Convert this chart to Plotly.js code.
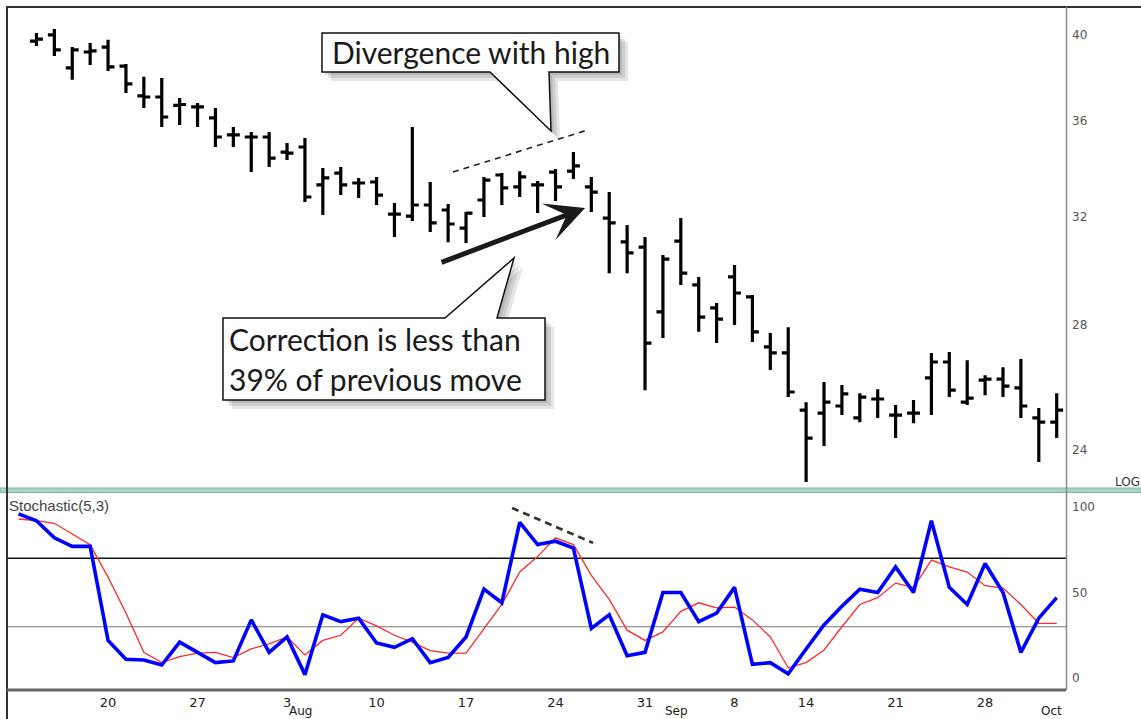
<!DOCTYPE html>
<html><head><meta charset="utf-8">
<script src="https://cdn.plot.ly/plotly-3.0.1.min.js"></script>
<style>html,body{margin:0;padding:0;background:#fff;overflow:hidden}#chart{width:1141px;height:719px}</style>
</head><body><div id="chart"></div>
<script>
// ---- data ----
const dates = ['1998-07-13','1998-07-14','1998-07-15','1998-07-16','1998-07-17',
'1998-07-20','1998-07-21','1998-07-22','1998-07-23','1998-07-24',
'1998-07-27','1998-07-28','1998-07-29','1998-07-30','1998-07-31',
'1998-08-03','1998-08-04','1998-08-05','1998-08-06','1998-08-07',
'1998-08-10','1998-08-11','1998-08-12','1998-08-13','1998-08-14',
'1998-08-17','1998-08-18','1998-08-19','1998-08-20','1998-08-21',
'1998-08-24','1998-08-25','1998-08-26','1998-08-27','1998-08-28',
'1998-08-31','1998-09-01','1998-09-02','1998-09-03','1998-09-04',
'1998-09-08','1998-09-09','1998-09-10','1998-09-11',
'1998-09-14','1998-09-15','1998-09-16','1998-09-17','1998-09-18',
'1998-09-21','1998-09-22','1998-09-23','1998-09-24','1998-09-25',
'1998-09-28','1998-09-29','1998-09-30','1998-10-01','1998-10-02'];
const priceDates = dates.slice(1);

const openPx = [39.70,40.00,38.41,39.17,39.41,38.50,37.11,37.06,36.68,36.61,
36.12,35.37,35.28,35.28,34.63,34.85,33.26,33.75,33.34,33.38,
32.09,32.01,32.45,32.25,31.54,32.65,33.67,33.18,33.26,33.79,
33.83,33.18,31.93,31.01,30.81,28.45,31.04,29.41,28.59,29.70,
28.98,27.25,27.05,25.21,25.12,25.34,24.97,25.56,25.06,25.12,
26.23,26.75,25.46,26.16,26.19,25.91,24.97,24.84];
const highPx = [40.10,40.30,39.41,39.61,39.76,38.60,37.99,37.94,37.02,36.79,
36.56,35.72,35.50,35.50,35.02,35.24,33.96,34.00,33.55,33.59,
32.53,35.72,33.38,32.49,32.17,33.59,33.75,33.83,33.42,33.92,
34.64,33.59,32.97,31.66,31.20,30.51,31.93,29.70,28.76,30.14,
29.05,27.72,27.92,25.46,26.10,26.00,25.74,25.87,25.37,25.53,
27.05,27.08,26.81,26.32,26.58,26.85,25.28,25.74];
const lowPx = [39.46,38.98,37.85,38.55,38.27,37.24,36.56,35.72,35.81,35.72,
34.85,34.85,33.79,34.00,34.30,32.57,32.05,32.85,32.73,32.45,
31.20,31.82,31.39,31.00,30.97,31.97,32.45,32.77,32.13,32.61,
33.50,32.17,29.84,29.84,25.84,27.55,29.41,27.76,27.38,28.00,
27.42,26.49,25.62,23.08,24.12,25.06,24.84,24.97,24.36,24.81,
25.06,25.62,25.37,25.68,25.62,24.97,23.65,24.36];
const closePx = [39.80,39.27,39.27,39.22,38.46,37.66,37.06,36.16,36.72,36.61,
35.28,35.37,35.28,34.38,34.59,32.77,33.55,33.26,33.34,32.85,
32.09,32.45,31.74,31.70,32.13,33.46,33.14,33.59,33.26,33.18,
34.05,32.97,31.74,30.59,27.38,30.36,29.84,28.27,28.20,29.12,
27.76,27.05,25.78,24.36,25.46,25.72,25.62,25.56,25.06,25.12,
26.75,25.84,25.59,26.19,25.97,25.34,24.84,25.21];

const stochK = [96,92,82,77,77,22,11,10.5,7.6,21,
15,9,10,34,15,24,2,37,33,35,
20.5,18,23,9,12,24,52,44,91,78,
80,76,29,37,13,15,50,50,33,38,
53,8,9,2.5,17,31,42,52,50,65,
50,92,53,43,67,50,15,35,47];
const stochD = [93,92,90.5,84,78,59,38,15,9,12.5,
14.6,15,12,17,20,24,13.5,22,25,35,
30.5,25,21,16,14.6,14.6,29,43,62,71,
82,78,60,46,28,22,27,39,44,41,
41.5,34,24,6,9,16.4,30,43,47,55.5,
53,69,65,62,54,52.6,43,32,32];

const priceTicks = [24,28,32,36,40];
const priceTickText = ['24','28','32','36','40'];
const stochTicks = [0,50,100];
const dayTickDates = ['1998-07-20','1998-07-27','1998-08-03','1998-08-10','1998-08-17','1998-08-24',
'1998-08-31','1998-09-08','1998-09-14','1998-09-21','1998-09-28'];
const dayTickText = ['20','27','3','10','17','24','31','8','14','21','28'];
const monthDates = ['1998-08-03','1998-09-01','1998-10-01'];
const monthText = ['Aug','Sep','Oct'];
const overbought = 70, oversold = 30;

// ---- layout helpers (pixel -> paper) ----
const L = 8, R = 1066, T = 7, B = 690;
const px = v => (v - L) / (R - L);
const py = v => (B - v) / (B - T);
const path = pts => 'M ' + pts.map(p => px(p[0]).toFixed(5) + ',' + py(p[1]).toFixed(5)).join(' L ') + ' Z';
const shifted = (pts, d) => pts.map(p => [p[0] + d, p[1] + d]);

const divBox = [[322,33],[619,33],[619,72],[549,72],[551,131],[490,72],[322,72]];
const corBox = [[223,318],[445,318],[514,258],[497,318],[545,318],[545,400],[223,400]];

const shapes = [];
function lineP(x0,y0,x1,y1,color,width,extra){
  shapes.push(Object.assign({type:'line',xref:'paper',yref:'paper',x0:px(x0),y0:py(y0),x1:px(x1),y1:py(y1),
    line:{color:color,width:width},layer:'above'},extra||{}));
}
// reference levels on stochastic
shapes.push({type:'line',xref:'paper',yref:'y2',x0:0,x1:1,y0:overbought,y1:overbought,line:{color:'#111',width:1.6},layer:'below'});
shapes.push({type:'line',xref:'paper',yref:'y2',x0:0,x1:1,y0:oversold,y1:oversold,line:{color:'#777',width:1.2},layer:'below'});
// frame and separators
shapes.push({type:'rect',xref:'paper',yref:'paper',x0:px(0),x1:px(1141),y0:py(492.5),y1:py(488),
  fillcolor:'#a8d7c7',line:{color:'#7db5a3',width:1},layer:'above'});
lineP(6,7,1141,7,'#333',2);
lineP(7,7,7,719,'#333',2);
lineP(1066.5,7,1066.5,690,'#888',1.5);
lineP(7,690,1066,690,'#666',3);
// divergence dashed lines (data coordinates)
shapes.push({type:'line',xref:'x',yref:'y',x0:24.27,y0:33.79,x1:31.8,y1:35.59,line:{color:'#222',width:1.6,dash:'6px,5px'},layer:'above'});
shapes.push({type:'line',xref:'x2',yref:'y2',x0:27.57,y0:99.4,x1:32.1,y1:79,line:{color:'#333',width:2.6,dash:'7px,5px'},layer:'above'});
// callouts with soft shadows
[[divBox],[corBox]].forEach(([pts]) => {
  [3,6,9].forEach(d => shapes.push({type:'path',xref:'paper',yref:'paper',path:path(shifted(pts,d)),
    fillcolor:'rgba(0,0,0,0.10)',line:{width:0},layer:'above'}));
  shapes.push({type:'path',xref:'paper',yref:'paper',path:path(pts),fillcolor:'#fff',line:{color:'#111',width:1.5},layer:'above'});
});

const tickFont = {family:'DejaVu Sans, Arial, sans-serif',size:13,color:'#222'};
const calloutFont = {family:'Lato, Open Sans, sans-serif',size:30,color:'#1a1a1a'};
const annotations = [
  {xref:'x',yref:'y',x:31.65,y:Math.log10(32.33),axref:'x',ayref:'y',ax:23.55,ay:Math.log10(30.22),
   showarrow:true,arrowhead:3,arrowsize:1.3,arrowwidth:5,arrowcolor:'#1a1a1a',text:''},
  {xref:'paper',yref:'paper',x:px(471),y:py(52),xanchor:'center',yanchor:'middle',showarrow:false,
   text:'Divergence with high',font:calloutFont},
  {xref:'paper',yref:'paper',x:px(227),y:py(339),xanchor:'left',yanchor:'middle',showarrow:false,
   text:'Correction is less than',font:calloutFont},
  {xref:'paper',yref:'paper',x:px(227),y:py(379),xanchor:'left',yanchor:'middle',showarrow:false,
   text:'39% of previous move',font:calloutFont},
  {xref:'paper',yref:'paper',x:px(1113),y:py(482),xanchor:'left',yanchor:'middle',showarrow:false,
   text:'LOG',font:{family:'DejaVu Sans, Arial, sans-serif',size:12,color:'#333'}},
  {xref:'paper',yref:'paper',x:px(7),y:py(505),xanchor:'left',yanchor:'middle',showarrow:false,
   text:'Stochastic(5,3)',font:{family:'Liberation Sans, Arial, sans-serif',size:15,color:'#444'}}
];
monthDates.forEach((d,i) => annotations.push({xref:'x2',yref:'paper',x:dates.indexOf(d),y:py(711),
  xanchor:'left',yanchor:'middle',showarrow:false,text:monthText[i],
  font:{family:'DejaVu Sans, Arial, sans-serif',size:12,color:'#222'}}));

const traces = [
  {type:'ohlc',x:priceDates,open:openPx,high:highPx,low:lowPx,close:closePx,xaxis:'x',yaxis:'y',
   increasing:{line:{color:'#000',width:3.2}},decreasing:{line:{color:'#000',width:3.2}},
   tickwidth:0.36,hoverinfo:'none',showlegend:false},
  {type:'scatter',mode:'lines',x:dates,y:stochD,xaxis:'x2',yaxis:'y2',line:{color:'#ff2a2a',width:1.3},hoverinfo:'none',showlegend:false},
  {type:'scatter',mode:'lines',x:dates,y:stochK,xaxis:'x2',yaxis:'y2',line:{color:'#0000ff',width:3.6},hoverinfo:'none',showlegend:false}
];

const xCommon = {type:'category',categoryorder:'array',categoryarray:dates,range:[-0.59,58.52],
  showgrid:false,zeroline:false,showline:false,fixedrange:true};
const layout = {
  width:1141,height:719,margin:{l:L,r:1141-R,t:T,b:719-B},
  paper_bgcolor:'#fff',plot_bgcolor:'rgba(0,0,0,0)',showlegend:false,hovermode:false,
  xaxis:Object.assign({},xCommon,{domain:[0,1],anchor:'y',showticklabels:false,ticks:'',rangeslider:{visible:false}}),
  xaxis2:Object.assign({},xCommon,{domain:[0,1],anchor:'y2',tickmode:'array',tickvals:dayTickDates,ticktext:dayTickText,
    ticks:'',tickfont:tickFont,ticklabelstandoff:3}),
  yaxis:{type:'log',domain:[py(488),1],anchor:'x',side:'right',range:[1.3600,1.6170],tickmode:'array',
    tickvals:priceTicks,ticktext:priceTickText,showgrid:false,zeroline:false,showline:false,ticks:'',
    tickfont:{family:'DejaVu Sans, Arial, sans-serif',size:12,color:'#555'},ticklabelstandoff:5,fixedrange:true},
  yaxis2:{domain:[0,py(493)],anchor:'x2',side:'right',range:[-7,108.2],tickmode:'array',tickvals:stochTicks,
    showgrid:false,zeroline:false,showline:false,ticks:'',
    tickfont:{family:'DejaVu Sans, Arial, sans-serif',size:12,color:'#555'},ticklabelstandoff:5,fixedrange:true},
  shapes:shapes,annotations:annotations
};
Plotly.newPlot('chart',traces,layout,{displayModeBar:false,staticPlot:true});
</script>
</body></html>
